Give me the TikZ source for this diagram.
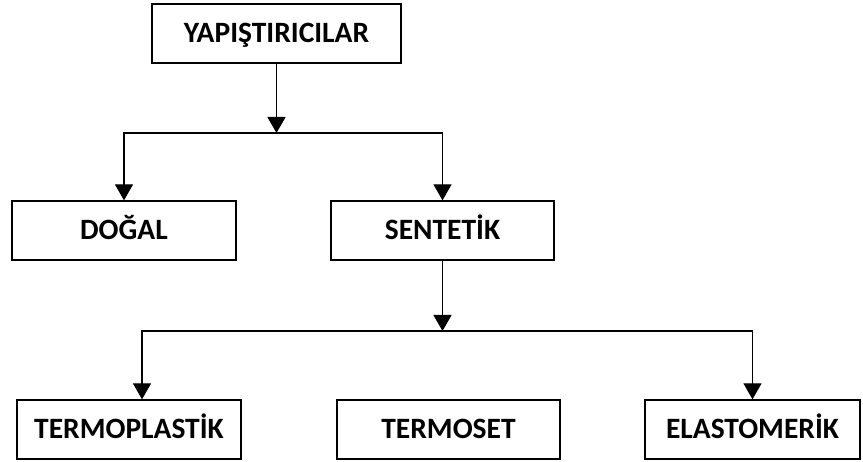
\documentclass[tikz,border=0pt]{standalone}
\usepackage{fontspec}
\setmainfont{Carlito}
\usepackage{tikz}
\usetikzlibrary{arrows.meta,positioning,calc}

\begin{document}
\begin{tikzpicture}[x=1pt, y=-1pt,
    box/.style={draw, line width=1.3pt, minimum height=59pt, inner sep=0pt, text height=19pt, text depth=0pt, align=center, font=\fontsize{29.5}{35}\selectfont\bfseries},
    arr/.style={-{Triangle[width=18pt,length=16pt]}, line width=1.3pt}
]
\useasboundingbox (0,0) rectangle (863,462);
\node[box, minimum width=249pt] (yap) at (276.5,33.5) {YAPIŞTIRICILAR};
\node[box, minimum width=224pt] (dogal) at (124,230.5) {DOĞAL};
\node[box, minimum width=223pt] (sentetik) at (442.5,230.5) {SENTETİK};
\node[box, minimum width=224pt] (termoplastik) at (129,429.5) {TERMOPLASTİK};
\node[box, minimum width=223pt] (termoset) at (448.5,429.5) {TERMOSET};
\node[box, minimum width=215pt] (elastomerik) at (752.5,429.5) {ELASTOMERİK};

\coordinate (j1) at (yap.south |- 0,133);
\coordinate (j2) at (sentetik.south |- 0,331);

\draw[arr] (yap.south) -- (j1);
\draw[arr] (j1) -| (dogal.north);
\draw[arr] (j1) -| (sentetik.north);
\draw[arr] (sentetik.south) -- (j2);
\draw[arr] (j2) -| ([xshift=13pt]termoplastik.north);
\draw[arr] (j2) -| (elastomerik.north);
\end{tikzpicture}
\end{document}
